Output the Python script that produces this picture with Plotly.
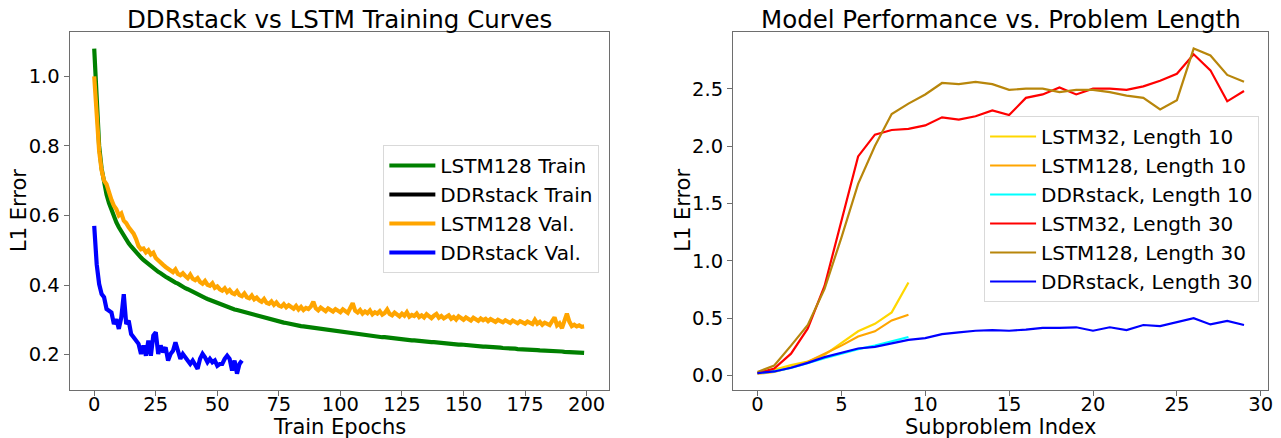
import plotly.graph_objects as go

# ---------------- Left panel data ----------------
epochs_lstm = list(range(200))
lstm128_train = [
    1.080, 0.905, 0.800, 0.735, 0.690, 0.660, 0.636, 0.615, 0.597, 0.580,
    0.566, 0.553, 0.541, 0.530, 0.520, 0.511, 0.502, 0.494, 0.486, 0.479,
    0.472, 0.466, 0.460, 0.454, 0.448, 0.443, 0.438, 0.434, 0.428, 0.424,
    0.420, 0.415, 0.411, 0.407, 0.404, 0.399, 0.395, 0.391, 0.388, 0.384,
    0.381, 0.377, 0.374, 0.370, 0.367, 0.363, 0.360, 0.357, 0.355, 0.352,
    0.349, 0.346, 0.344, 0.341, 0.338, 0.335, 0.333, 0.330, 0.328, 0.326,
    0.324, 0.321, 0.319, 0.317, 0.315, 0.313, 0.311, 0.309, 0.307, 0.305,
    0.303, 0.301, 0.300, 0.298, 0.297, 0.295, 0.293, 0.292, 0.291, 0.289,
    0.288, 0.287, 0.285, 0.284, 0.282, 0.281, 0.280, 0.279, 0.278, 0.276,
    0.275, 0.274, 0.273, 0.272, 0.271, 0.270, 0.269, 0.268, 0.267, 0.266,
    0.265, 0.264, 0.263, 0.262, 0.261, 0.260, 0.260, 0.259, 0.258, 0.257,
    0.256, 0.255, 0.254, 0.254, 0.253, 0.252, 0.251, 0.250, 0.250, 0.249,
    0.248, 0.247, 0.247, 0.246, 0.245, 0.244, 0.244, 0.243, 0.242, 0.241,
    0.241, 0.240, 0.240, 0.239, 0.238, 0.238, 0.237, 0.236, 0.236, 0.235,
    0.235, 0.234, 0.233, 0.233, 0.232, 0.231, 0.231, 0.230, 0.229, 0.229,
    0.228, 0.227, 0.227, 0.226, 0.226, 0.225, 0.224, 0.224, 0.223, 0.223,
    0.222, 0.222, 0.221, 0.221, 0.220, 0.220, 0.219, 0.219, 0.218, 0.218,
    0.217, 0.217, 0.216, 0.216, 0.215, 0.215, 0.214, 0.214, 0.213, 0.213,
    0.213, 0.212, 0.212, 0.211, 0.211, 0.211, 0.210, 0.210, 0.209, 0.209,
    0.209, 0.208, 0.208, 0.208, 0.207, 0.207, 0.206, 0.206, 0.206, 0.205,
]
lstm128_val = [
    1.000, 0.870, 0.785, 0.730, 0.700, 0.690, 0.662, 0.645, 0.628, 0.618,
    0.600, 0.606, 0.585, 0.578, 0.566, 0.556, 0.548, 0.532, 0.512, 0.503,
    0.505, 0.494, 0.500, 0.488, 0.493, 0.478, 0.470, 0.463, 0.458, 0.452,
    0.448, 0.441, 0.437, 0.445, 0.432, 0.428, 0.434, 0.426, 0.420, 0.430,
    0.418, 0.414, 0.420, 0.409, 0.404, 0.412, 0.401, 0.398, 0.405, 0.392,
    0.396, 0.388, 0.384, 0.391, 0.380, 0.386, 0.377, 0.374, 0.382, 0.371,
    0.368, 0.376, 0.365, 0.362, 0.370, 0.359, 0.364, 0.356, 0.352, 0.360,
    0.349, 0.346, 0.353, 0.343, 0.350, 0.341, 0.338, 0.345, 0.336, 0.342,
    0.335, 0.332, 0.340, 0.330, 0.337, 0.328, 0.334, 0.331, 0.338, 0.352,
    0.333, 0.327, 0.335, 0.329, 0.325, 0.333, 0.328, 0.324, 0.331, 0.326,
    0.322, 0.330, 0.325, 0.320, 0.334, 0.348, 0.326, 0.321, 0.328, 0.318,
    0.324, 0.319, 0.327, 0.316, 0.322, 0.318, 0.325, 0.315, 0.320, 0.330,
    0.317, 0.313, 0.321, 0.315, 0.310, 0.318, 0.312, 0.322, 0.309, 0.314,
    0.311, 0.318, 0.308, 0.313, 0.307, 0.316, 0.310, 0.305, 0.312, 0.317,
    0.306, 0.311, 0.304, 0.309, 0.313, 0.303, 0.308, 0.301, 0.310, 0.305,
    0.300, 0.307, 0.302, 0.298, 0.306, 0.301, 0.297, 0.304, 0.299, 0.303,
    0.296, 0.302, 0.298, 0.294, 0.300, 0.297, 0.293, 0.299, 0.295, 0.291,
    0.298, 0.294, 0.290, 0.296, 0.292, 0.289, 0.295, 0.291, 0.288, 0.300,
    0.289, 0.294, 0.286, 0.292, 0.288, 0.285, 0.296, 0.307, 0.284, 0.290,
    0.276, 0.300, 0.318, 0.295, 0.282, 0.286, 0.281, 0.284, 0.280, 0.281,
]
epochs_ddr = list(range(61))
ddr_val = [
    0.570, 0.460, 0.403, 0.374, 0.365, 0.331, 0.326, 0.321, 0.288, 0.302,
    0.274, 0.307, 0.374, 0.288, 0.298, 0.259, 0.250, 0.240, 0.231, 0.202,
    0.226, 0.197, 0.240, 0.197, 0.255, 0.264, 0.202, 0.226, 0.207, 0.221,
    0.183, 0.202, 0.211, 0.235, 0.207, 0.188, 0.202, 0.192, 0.178, 0.173,
    0.183, 0.168, 0.159, 0.188, 0.202, 0.192, 0.178, 0.188, 0.178, 0.183,
    0.168, 0.173, 0.173, 0.188, 0.197, 0.188, 0.154, 0.183, 0.145, 0.173,
    0.183,
]
ddr_train = [None]  # no visible curve; appears only in the legend

left_xticks = [0, 25, 50, 75, 100, 125, 150, 175, 200]
left_yticks = [0.2, 0.4, 0.6, 0.8, 1.0]

# ---------------- Right panel data ----------------
sub_idx10 = list(range(10))
sub_idx30 = list(range(30))
lstm32_len10 = [0.02, 0.05, 0.09, 0.12, 0.18, 0.28, 0.385, 0.45, 0.55, 0.81]
lstm128_len10 = [0.015, 0.03, 0.07, 0.12, 0.19, 0.26, 0.34, 0.385, 0.48, 0.53]
ddr_len10 = [0.02, 0.035, 0.065, 0.11, 0.15, 0.19, 0.23, 0.26, 0.30, 0.335]
lstm32_len30 = [0.02, 0.06, 0.19, 0.41, 0.78, 1.35, 1.91, 2.10, 2.14, 2.15,
                2.18, 2.25, 2.23, 2.26, 2.31, 2.27, 2.42, 2.45, 2.51, 2.45,
                2.50, 2.50, 2.49, 2.52, 2.57, 2.63, 2.80, 2.66, 2.39, 2.48]
lstm128_len30 = [0.03, 0.087, 0.26, 0.44, 0.755, 1.20, 1.67, 2.00, 2.28, 2.37,
                 2.45, 2.55, 2.54, 2.56, 2.54, 2.49, 2.50, 2.50, 2.47, 2.49,
                 2.49, 2.47, 2.44, 2.42, 2.32, 2.40, 2.85, 2.79, 2.62, 2.56]
ddr_len30 = [0.02, 0.035, 0.067, 0.11, 0.16, 0.20, 0.235, 0.25, 0.28, 0.31,
             0.325, 0.36, 0.375, 0.39, 0.395, 0.39, 0.40, 0.415, 0.415, 0.42,
             0.39, 0.42, 0.395, 0.44, 0.43, 0.465, 0.50, 0.445, 0.475, 0.44]

right_xticks = [0, 5, 10, 15, 20, 25, 30]
right_yticks = [0.0, 0.5, 1.0, 1.5, 2.0, 2.5]

# ---------------- Styling ----------------
W, H = 1281, 438
FONT = "DejaVu Sans"
TICK_SIZE = 19.5
LEG_SIZE = 20
LABEL_SIZE = 21
TITLE_SIZE = 24.5
SPINE = "#6e6e6e"


def px_x(p):
    return p / W


def px_y(p):
    return 1 - p / H


def auto_range(vals, margin=0.05):
    v = [a for a in vals if a is not None]
    lo, hi = min(v), max(v)
    d = (hi - lo) * margin
    return [lo - d, hi + d]


fig = go.Figure()

LW_L = 4.2
fig.add_trace(go.Scatter(x=epochs_lstm, y=lstm128_train, mode="lines", name="LSTM128 Train",
                         line=dict(color="#008000", width=LW_L), xaxis="x", yaxis="y", legend="legend"))
fig.add_trace(go.Scatter(x=epochs_ddr[:len(ddr_train)], y=ddr_train, mode="lines", name="DDRstack Train",
                         line=dict(color="#000000", width=LW_L), xaxis="x", yaxis="y", legend="legend"))
fig.add_trace(go.Scatter(x=epochs_lstm, y=lstm128_val, mode="lines", name="LSTM128 Val.",
                         line=dict(color="#FFA500", width=LW_L), xaxis="x", yaxis="y", legend="legend"))
fig.add_trace(go.Scatter(x=epochs_ddr, y=ddr_val, mode="lines", name="DDRstack Val.",
                         line=dict(color="#0000FF", width=LW_L), xaxis="x", yaxis="y", legend="legend"))

LW_R = 2.2
right_series = [
    (sub_idx10, lstm32_len10, "LSTM32, Length 10", "#FFD700"),
    (sub_idx10, lstm128_len10, "LSTM128, Length 10", "#FFA500"),
    (sub_idx10, ddr_len10, "DDRstack, Length 10", "#00FFFF"),
    (sub_idx30, lstm32_len30, "LSTM32, Length 30", "#FF0000"),
    (sub_idx30, lstm128_len30, "LSTM128, Length 30", "#B8860B"),
    (sub_idx30, ddr_len30, "DDRstack, Length 30", "#0000FF"),
]
for xs, ys, nm, col in right_series:
    fig.add_trace(go.Scatter(x=xs, y=ys, mode="lines", name=nm,
                             line=dict(color=col, width=LW_R), xaxis="x2", yaxis="y2", legend="legend2"))

axis_common = dict(showgrid=False, zeroline=False, showline=True, mirror=True,
                   linecolor=SPINE, linewidth=1.3, ticks="outside", ticklen=5,
                   tickwidth=1.2, tickcolor=SPINE,
                   tickfont=dict(family=FONT, size=TICK_SIZE, color="#000000"))
xaxis_extra = dict(ticklabelstandoff=-9)

left_y_all = lstm128_train + lstm128_val + ddr_val
right_y_all = lstm32_len10 + lstm128_len10 + ddr_len10 + lstm32_len30 + lstm128_len30 + ddr_len30

ydom = [px_y(390), px_y(32.3)]
legend_common = dict(xanchor="right", yanchor="top",
                     bgcolor="rgba(255,255,255,0.85)", bordercolor="#d9d9d9", borderwidth=1,
                     font=dict(family=FONT, size=LEG_SIZE, color="#000000"),
                     itemwidth=46, tracegroupgap=0)
fig.update_layout(
    width=W, height=H,
    margin=dict(l=0, r=0, t=0, b=0),
    paper_bgcolor="white", plot_bgcolor="white",
    font=dict(family=FONT, color="#000000"),
    xaxis=dict(domain=[px_x(70), px_x(611)], range=auto_range(epochs_lstm),
               tickvals=left_xticks, anchor="y", **axis_common, **xaxis_extra),
    yaxis=dict(domain=ydom, range=auto_range(left_y_all),
               tickvals=left_yticks, tickformat=".1f", anchor="x", **axis_common),
    xaxis2=dict(domain=[px_x(736), px_x(1273.3)], range=auto_range(sub_idx30),
                tickvals=right_xticks, anchor="y2", **axis_common, **xaxis_extra),
    yaxis2=dict(domain=ydom, range=auto_range(right_y_all),
                tickvals=right_yticks, tickformat=".1f", anchor="x2", **axis_common),
    legend=dict(x=px_x(601.7), y=px_y(145), **legend_common),
    legend2=dict(x=px_x(1264), y=px_y(116), **legend_common),
    showlegend=True,
)

annotations = [
    dict(text="DDRstack vs LSTM Training Curves", x=px_x(340.5), y=px_y(19),
         font=dict(size=TITLE_SIZE)),
    dict(text="Model Performance vs. Problem Length", x=px_x(1004.7), y=px_y(19),
         font=dict(size=TITLE_SIZE)),
    dict(text="Train Epochs", x=px_x(340.5), y=px_y(427), font=dict(size=LABEL_SIZE)),
    dict(text="Subproblem Index", x=px_x(1004.7), y=px_y(427), font=dict(size=LABEL_SIZE)),
    dict(text="L1 Error", x=px_x(19), y=px_y(210), textangle=-90, font=dict(size=LABEL_SIZE)),
    dict(text="L1 Error", x=px_x(685.5), y=px_y(210), textangle=-90, font=dict(size=LABEL_SIZE)),
]
for a in annotations:
    a.update(xref="paper", yref="paper", showarrow=False, xanchor="center", yanchor="middle")
    a["font"].update(family=FONT, color="#000000")
fig.update_layout(annotations=annotations)

fig.write_html("out.html", config={"displayModeBar": False},
               post_script="document.body.style.margin='0';document.body.style.overflow='hidden';")
